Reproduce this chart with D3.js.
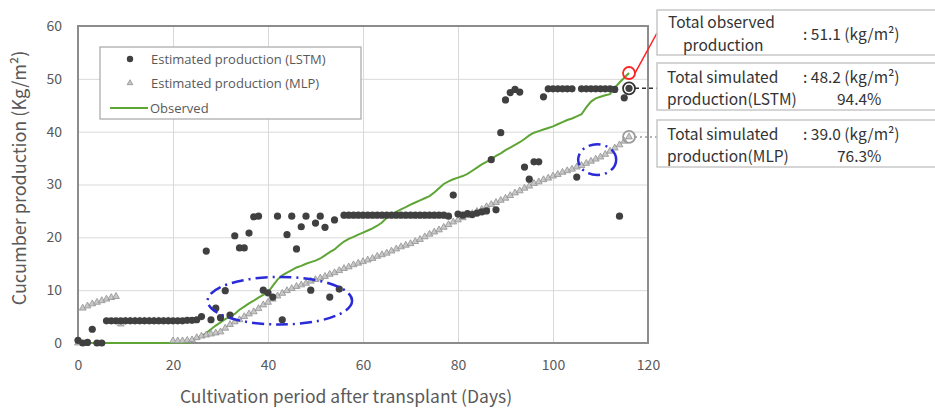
<!DOCTYPE html>
<html>
<head>
<meta charset="utf-8">
<script src="https://cdn.jsdelivr.net/npm/d3@7"></script>
<style>
  body { margin: 0; background: #fff; }
  text { font-family: "Noto Sans CJK KR", "Noto Sans", sans-serif; }
</style>
</head>
<body>
<script>
// daily values, index = day after transplant (0..116)
var lstm = [
  0.5, 0, 0.1, 2.6, 0, 0, 4.2, 4.2, 4.2, 4.2,
  4.2, 4.2, 4.2, 4.2, 4.2, 4.2, 4.2, 4.2, 4.2, 4.2,
  4.2, 4.2, 4.2, 4.3, 4.3, 4.4, 5.0, 17.4, 4.4, 6.6,
  4.8, 9.9, 5.3, 20.3, 18.0, 18.0, 20.8, 23.9, 24.0, 10.0,
  9.5, 8.7, 24.0, 4.4, 20.5, 24.0, 17.8, 22.0, 24.0, 10.0,
  22.7, 24.0, 21.9, 8.7, 23.3, 10.2, 24.2, 24.2, 24.2, 24.2,
  24.2, 24.2, 24.2, 24.2, 24.2, 24.2, 24.2, 24.2, 24.2, 24.2,
  24.2, 24.2, 24.2, 24.2, 24.2, 24.2, 24.2, 24.2, 24.0, 28.0,
  24.4, 24.2, 24.5, 24.3, 24.6, 24.8, 25.0, 34.7, 25.2, 39.8,
  46.0, 47.4, 48.0, 47.5, 33.3, 31.0, 34.3, 34.3, 46.6, 48.1,
  48.1, 48.1, 48.1, 48.1, 48.1, 31.4, 48.1, 48.1, 48.1, 48.1,
  48.1, 48.1, 48.1, 48.0, 24.0, 46.4, 48.2
];

var mlp = [
  0, 6.6, 7.0, 7.4, 7.7, 8.0, 8.3, 8.6, 8.8, 3.6,
  4.2, 4.2, 4.2, 4.2, 4.2, 4.2, 4.2, 4.2, 4.2, 4.2,
  0.4, 0.4, 0.4, 0.5, 0.6, 1.0, 1.3, 1.5, 1.7, 1.9,
  2.1, 2.8, 3.5, 4.0, 4.4, 5.0, 5.5, 5.9, 6.5, 7.2,
  7.7, 8.3, 8.9, 9.4, 9.9, 10.3, 10.7, 11.0, 11.3, 11.7,
  12.0, 12.3, 12.6, 13.0, 13.3, 13.7, 14.1, 14.4, 14.8, 15.1,
  15.4, 15.7, 16.0, 16.4, 16.7, 17.0, 17.4, 17.8, 18.2, 18.5,
  18.8, 19.2, 19.6, 20.1, 20.6, 21.0, 21.4, 21.9, 22.4, 22.9,
  23.3, 23.7, 24.1, 24.5, 24.9, 25.3, 25.8, 26.2, 26.6, 27.0,
  27.4, 27.9, 28.4, 28.8, 29.3, 29.7, 30.2, 30.5, 30.9, 31.2,
  31.6, 31.9, 32.3, 32.6, 32.9, 33.3, 33.6, 34.0, 34.4, 34.8,
  35.2, 35.7, 36.3, 36.9, 37.5, 38.2, 39.0
];

var observed = [
  0, 0, 0, 0, 0, 0, 0, 0, 0, 0,
  0, 0, 0, 0, 0, 0, 0, 0, 0, 0,
  0, 0, 0, 0, 0.4, 0.9, 1.3, 1.9, 2.6, 3.3,
  3.9, 4.5, 5.0, 5.5, 6.3, 6.9, 7.5, 8.0, 8.6, 9.1,
  9.6, 10.8, 12.0, 12.8, 13.3, 13.8, 14.3, 14.6, 15.0, 15.3,
  15.6, 16.0, 16.6, 17.2, 17.7, 18.5, 19.2, 19.7, 20.1, 20.5,
  20.9, 21.3, 21.7, 22.2, 22.8, 23.7, 24.4, 24.8, 25.3, 25.7,
  26.2, 26.6, 27.0, 27.4, 27.8, 28.5, 29.3, 30.1, 30.6, 31.0,
  31.3, 31.6, 32.0, 32.6, 33.2, 33.8, 34.3, 34.8, 35.4, 35.9,
  36.5, 37.0, 37.5, 38.0, 38.6, 39.3, 39.8, 40.1, 40.4, 40.7,
  41.0, 41.4, 41.8, 42.2, 42.5, 42.9, 43.3, 44.6, 45.7, 46.3,
  46.6, 46.9, 47.1, 48.3, 49.3, 50.2, 51.1
];

var xTicks = [0, 20, 40, 60, 80, 100, 120];
var yTicks = [0, 10, 20, 30, 40, 50, 60];

var legendLabels = ["Estimated production (LSTM)", "Estimated production (MLP)", "Observed"];

// blue dash-dot ellipses (data coords: cx, cy, rx days, ry kg)
var ellipses = [
  { cx: 42.5, cy: 8.0, rx: 15.2, ry: 4.5 },
  { cx: 109.3, cy: 34.7, rx: 4.0, ry: 2.9 }
];

var boxLines = [
  { left: ["Total observed", "production"], right: [": 51.1 (kg/m²)", ""] },
  { left: ["Total simulated", "production(LSTM)"], right: [": 48.2 (kg/m²)", "94.4%"] },
  { left: ["Total simulated", "production(MLP)"], right: [": 39.0 (kg/m²)", "76.3%"] }
];

var svgWidth = 935, svgHeight = 408;
var margin = { top: 26, right: 287, bottom: 65, left: 78 };
var chartWidth = svgWidth - margin.left - margin.right;
var chartHeight = svgHeight - margin.top - margin.bottom;

var svg = d3.select("body").append("svg")
  .attr("width", svgWidth)
  .attr("height", svgHeight);

var chartGroup = svg.append("g")
  .attr("transform", `translate(${margin.left}, ${margin.top})`);

var x = d3.scaleLinear().domain([0, 120]).range([0, chartWidth]);
var y = d3.scaleLinear().domain([0, 60]).range([chartHeight, 0]);

// gridlines
chartGroup.append("g")
  .call(d3.axisLeft(y).tickValues(yTicks).tickSize(-chartWidth).tickFormat(""))
  .call(g => g.select(".domain").remove())
  .selectAll("line").attr("stroke", "#d9d9d9");

chartGroup.append("g")
  .attr("transform", `translate(0, ${chartHeight})`)
  .call(d3.axisBottom(x).tickValues(xTicks).tickSize(-chartHeight).tickFormat(""))
  .call(g => g.select(".domain").remove())
  .selectAll("line").attr("stroke", "#d9d9d9");

// tick labels
chartGroup.append("g")
  .call(d3.axisLeft(y).tickValues(yTicks).tickSize(0).tickPadding(16))
  .call(g => g.select(".domain").remove())
  .selectAll("text")
  .attr("fill", "#595959")
  .style("font-size", "14px");

chartGroup.append("g")
  .attr("transform", `translate(0, ${chartHeight})`)
  .call(d3.axisBottom(x).tickValues(xTicks).tickSize(0).tickPadding(17))
  .call(g => g.select(".domain").remove())
  .selectAll("text")
  .attr("fill", "#595959")
  .style("font-size", "14px");

// plot border
chartGroup.append("rect")
  .attr("width", chartWidth)
  .attr("height", chartHeight)
  .attr("fill", "none")
  .attr("stroke", "#8c8c8c")
  .attr("stroke-width", 2);

// observed line
var line = d3.line()
  .x((d, i) => x(i))
  .y(d => y(d));

chartGroup.append("path")
  .datum(observed)
  .attr("d", line)
  .attr("fill", "none")
  .attr("stroke", "#5fa535")
  .attr("stroke-width", 2);

var tri = d3.symbol().type(d3.symbolTriangle).size(20);

// MLP triangles
chartGroup.append("g").selectAll("path")
  .data(mlp)
  .enter()
  .append("path")
  .attr("d", tri)
  .attr("transform", (d, i) => `translate(${x(i)}, ${y(d)})`)
  .attr("fill", "#c8c8c8")
  .attr("stroke", "#909090")
  .attr("stroke-width", 0.8);

// LSTM dots
chartGroup.append("g").selectAll("circle")
  .data(lstm)
  .enter()
  .append("circle")
  .attr("cx", (d, i) => x(i))
  .attr("cy", d => y(d))
  .attr("r", 3.6)
  .attr("fill", "#404040");

// dash-dot ellipses
chartGroup.selectAll(".ell")
  .data(ellipses)
  .enter()
  .append("ellipse")
  .attr("cx", d => x(d.cx))
  .attr("cy", d => y(d.cy))
  .attr("rx", d => x(d.rx) - x(0))
  .attr("ry", d => y(0) - y(d.ry))
  .attr("fill", "none")
  .attr("stroke", "#2a2ad8")
  .attr("stroke-width", 2.5)
  .attr("stroke-dasharray", "12,5,2,5");

// end markers + leaders
var lastDay = observed.length - 1;
var boxX = 657 - margin.left;
var ends = [
  { v: observed[lastDay], color: "#ff2020", dash: null, ty: 33 - margin.top },
  { v: lstm[lastDay], color: "#333333", dash: "4,3", ty: null },
  { v: mlp[lastDay], color: "#9a9a9a", dash: "2,3", ty: null }
];
ends.forEach(function(e) {
  var cx = x(lastDay), cy = y(e.v);
  chartGroup.append("line")
    .attr("x1", cx + 6).attr("y1", cy)
    .attr("x2", boxX).attr("y2", e.ty === null ? cy : e.ty)
    .attr("stroke", e.color)
    .attr("stroke-width", 1.5)
    .attr("stroke-dasharray", e.dash);
  chartGroup.append("circle")
    .attr("cx", cx).attr("cy", cy).attr("r", 6)
    .attr("fill", "none")
    .attr("stroke", e.color)
    .attr("stroke-width", 1.8);
});

// legend
var legend = svg.append("g").attr("transform", "translate(100, 47)");
legend.append("rect")
  .attr("width", 261).attr("height", 72)
  .attr("fill", "#fff")
  .attr("stroke", "#a6a6a6")
  .attr("stroke-width", 1.2);
legend.append("circle").attr("cx", 30).attr("cy", 12).attr("r", 3.2).attr("fill", "#404040");
legend.append("path").attr("d", d3.symbol().type(d3.symbolTriangle).size(14)).attr("transform", "translate(30, 36)")
  .attr("fill", "#c8c8c8").attr("stroke", "#909090").attr("stroke-width", 0.8);
legend.append("line").attr("x1", 10).attr("x2", 48).attr("y1", 61).attr("y2", 61)
  .attr("stroke", "#5fa535").attr("stroke-width", 2);
legend.selectAll(".lt")
  .data(legendLabels)
  .enter()
  .append("text")
  .attr("x", (d, i) => i === 2 ? 50 : 51)
  .attr("y", (d, i) => 12 + i * 24.5)
  .attr("dy", "0.35em")
  .attr("fill", "#595959")
  .style("font-family", "'Open Sans', sans-serif")
  .style("font-size", "13px")
  .text(d => d);

// axis titles
svg.append("text")
  .attr("x", 346)
  .attr("y", 403)
  .attr("text-anchor", "middle")
  .attr("fill", "#595959")
  .style("font-size", "17.5px")
  .text("Cultivation period after transplant (Days)");

svg.append("text")
  .attr("transform", "rotate(-90)")
  .attr("x", -178)
  .attr("y", 26)
  .attr("text-anchor", "middle")
  .attr("fill", "#595959")
  .style("font-size", "18px")
  .text("Cucumber production (Kg/m²)");

// annotation boxes
var boxTops = [10, 63, 120];
var boxes = svg.selectAll(".box")
  .data(boxLines)
  .enter()
  .append("g")
  .attr("transform", (d, i) => `translate(657, ${boxTops[i]})`);

boxes.append("rect")
  .attr("width", 285).attr("height", (d, i) => i === 0 ? 45 : 47)
  .attr("fill", "#fff")
  .attr("stroke", "#c8c8c8")
  .attr("stroke-width", 1.5);

boxes.each(function(d, i) {
  var g = d3.select(this);
  var fs = "15.5px";
  var y1 = i === 0 ? 18 : 20, y2 = i === 0 ? 41 : 42;
  g.append("text").attr("x", i === 0 ? 11 : 10).attr("y", y1)
    .attr("fill", "#333").style("font-size", fs).text(d.left[0]);
  g.append("text").attr("x", i === 0 ? 26 : 10).attr("y", y2)
    .attr("fill", "#333").style("font-size", fs).text(d.left[1]);
  g.append("text").attr("x", 146).attr("y", i === 0 ? 30 : y1)
    .attr("fill", "#333").style("font-size", fs).text(d.right[0]);
  g.append("text").attr("x", 180).attr("y", y2)
    .attr("fill", "#333").style("font-size", fs).text(d.right[1]);
});
</script>
</body>
</html>
